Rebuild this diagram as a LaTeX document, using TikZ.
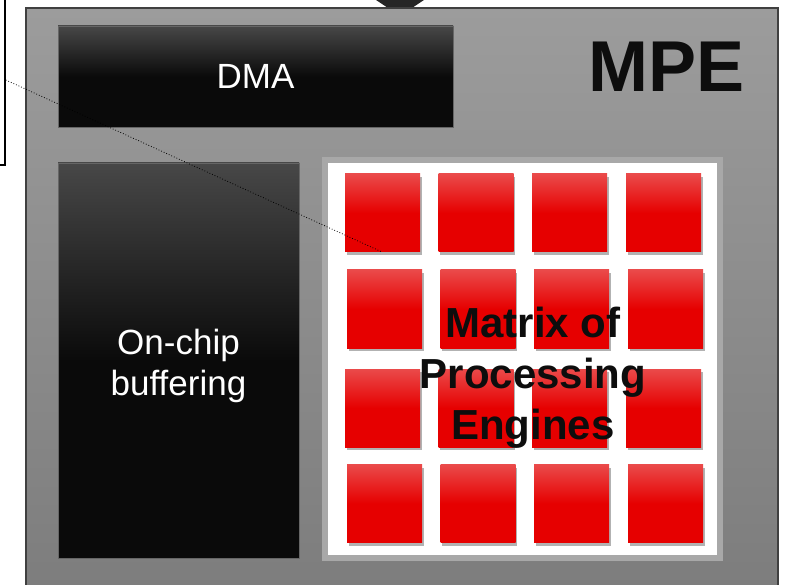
\documentclass[tikz,border=0pt]{standalone}
\usepackage{fontspec}
\setmainfont{Liberation Sans}
\usetikzlibrary{positioning, calc, shadows}
\definecolor{mpetop}{RGB}{156, 156, 156}
\definecolor{mpebottom}{RGB}{124, 124, 124}
\definecolor{pered}{RGB}{230, 0, 0}
\definecolor{peredtop}{RGB}{234, 74, 74}
\definecolor{frameborder}{RGB}{168, 168, 168}

\begin{document}
\begin{tikzpicture}[
    x=1pt, y=-1pt,
    darkblock/.style={rectangle, draw=black!60, line width=0.8pt, shading=axis, top color=black!72, bottom color=black!96, middle color=black!96, text=white, align=center, font=\fontsize{35}{41}\selectfont},
    engine/.style={rectangle, minimum width=75pt, minimum height=78pt, inner sep=0pt, top color=peredtop, bottom color=pered, middle color=pered, drop shadow={shadow xshift=1.5pt, shadow yshift=-3pt, fill=black, opacity=0.3}}
]
\clip (0,0) rectangle (787,585);
\fill[white] (0,0) rectangle (787,585);

% Box on the left
\node[draw=black, line width=1.6pt, fill=white, minimum width=105pt, minimum height=170pt] (lbox) at (-47.5,80) {};

% Arrow coming in from above
\fill[black!85] (376,0) -- (424,0) -- (412,8) -- (388,8) -- cycle;

% MPE
\node[rectangle, draw=black!75, line width=1.5pt, shading=axis, top color=mpetop, bottom color=mpebottom, minimum width=752pt, minimum height=600pt, inner sep=0pt] (mpe) at (402,308) {};
\node[font=\fontsize{72}{80}\selectfont\bfseries, text=black!95] (mpelabel) at (667,67) {MPE};

% DMA and buffering
\node[darkblock, minimum width=395pt, minimum height=101pt] (dma) at (255.5,76.5) {DMA};
\node[darkblock, minimum width=241pt, minimum height=395pt] (buffer) at (178.5,360.5) {};
\node[text=white, align=center, font=\fontsize{35}{41}\selectfont] (bufferlabel) at (178.5,365.5) {On-chip\\buffering};

% Matrix of processing engines
\node[rectangle, draw=frameborder, line width=6pt, fill=white, minimum width=395pt, minimum height=398pt, inner sep=0pt] (matrix) at (522.5,359) {};
\foreach \r/\y/\dx in {1/213/0, 2/309/2, 3/408/0, 4/503.5/2} {
  \foreach \c/\x in {1/382.5, 2/476, 3/569.5, 4/663.5} {
    \node[engine] (pe\r\c) at (\x+\dx,\y) {};
  }
}
\node[align=center, font=\fontsize{42}{51}\selectfont\bfseries, text=black!95] (matrixlabel) at (533,378) {Matrix of\\Processing\\Engines};

% Pointer
\draw[dotted, line width=0.8pt] (lbox.east) -- (pe11.south);

\end{tikzpicture}
\end{document}
